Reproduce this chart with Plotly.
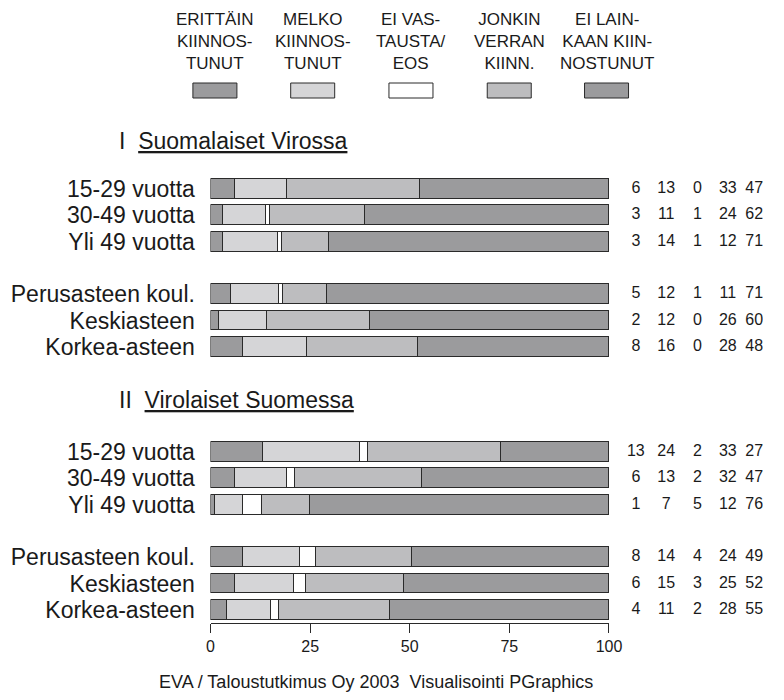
import plotly.graph_objects as go

# Data (percent of respondents)
ROW_LABELS = ["15-29 vuotta", "30-49 vuotta", "Yli 49 vuotta",
              "Perusasteen koul.", "Keskiasteen", "Korkea-asteen"] * 2
ERITTAIN    = [6, 3, 3, 5, 2, 8, 13, 6, 1, 8, 6, 4]
MELKO       = [13, 11, 14, 12, 12, 16, 24, 13, 7, 14, 15, 11]
EOS         = [0, 1, 1, 1, 0, 0, 2, 2, 5, 4, 3, 2]
JONKIN      = [33, 24, 12, 11, 26, 28, 33, 32, 12, 24, 25, 28]
EI_LAINKAAN = [47, 62, 71, 71, 60, 48, 27, 47, 76, 49, 52, 55]
SERIES_NAMES = ["ERITTÄIN<br>KIINNOS-<br>TUNUT", "MELKO<br>KIINNOS-<br>TUNUT",
                "EI VAS-<br>TAUSTA/<br>EOS", "JONKIN<br>VERRAN<br>KIINN.",
                "EI LAIN-<br>KAAN KIIN-<br>NOSTUNUT"]
SECTION_NUMS = ["I", "II"]
SECTION_TITLES = ["Suomalaiset Virossa", "Virolaiset Suomessa"]
X_TICKS = [0, 25, 50, 75, 100]
SOURCE = "EVA / Taloustutkimus Oy 2003  Visualisointi PGraphics"

# Styling / layout constants
FONT = "Liberation Sans, Arial, sans-serif"
COLORS = ["#9b9b9d", "#d5d5d7", "#ffffff", "#bdbdbf", "#9b9b9d"]
EDGE = "#2a2a2a"
TXT = "#1a1a1a"
OFF = 8                    # page body margin
W, H = 784 - 2 * OFF, 700 - 2 * OFF   # figure fits the window exactly
PLOT_BOTTOM = 623 - OFF    # x axis line (figure px)
BLOCK_START = [0, 4, 10, 14]          # row slot of each block of three bars
SECTION_Y = [-1.83, 8.04]             # slot of section headers
NUM_X = [646, 677, 709, 740, 767]     # page px centres of value columns
LEGEND_PX = [215.5, 315.5, 416, 516.5, 616]


def fx(p):
    """page px -> paper x"""
    return (p - OFF) / W


def fy(p):
    """page px -> paper y"""
    return (PLOT_BOTTOM - (p - OFF)) / PLOT_BOTTOM


row_y = [BLOCK_START[i // 3] + i % 3 for i in range(len(ROW_LABELS))]
series = [ERITTAIN, MELKO, EOS, JONKIN, EI_LAINKAAN]
totals = [sum(v) for v in zip(*series)]

fig = go.Figure()

for vals, color in zip(series, COLORS):
    fig.add_trace(go.Bar(
        x = [v / t * 100 for v, t in zip(vals, totals)], y = row_y,
        orientation = "h",
        width = 0.76,
        marker = dict(color = color, line = dict(color = EDGE, width = 1)),
        cliponaxis = False,
        showlegend = False,
        customdata = vals,
        hovertemplate = "%{customdata}<extra></extra>",
    ))

# value columns on the right (own hidden x axis in page px)
for vals, xcol in zip(series, NUM_X):
    fig.add_trace(go.Scatter(
        x = [xcol] * len(vals), y = row_y,
        xaxis = "x2",
        mode = "text",
        text = [str(v) for v in vals],
        textposition = "middle center",
        textfont = dict(family = FONT, size = 16, color = TXT),
        showlegend = False,
        hoverinfo = "skip",
    ))

annotations = []
shapes = []

# legend: text above a swatch
for name, cx, color in zip(SERIES_NAMES, LEGEND_PX, COLORS):
    annotations.append(dict(
        x = fx(cx), y = 1, xref = "paper", yref = "paper",
        text = name, showarrow = False, align = "center",
        xanchor = "center", yanchor = "top",
        font = dict(family = FONT, size = 17, color = TXT),
    ))
    shapes.append(dict(
        type = "rect", xref = "paper", yref = "paper",
        x0 = fx(cx - 22.5), x1 = fx(cx + 22.5),
        y0 = fy(98), y1 = fy(83),
        fillcolor = color, line = dict(color = EDGE, width = 1),
    ))

# section headers
for num, title, sy in zip(SECTION_NUMS, SECTION_TITLES, SECTION_Y):
    annotations.append(dict(
        x = fx(115), y = sy, xref = "paper", yref = "y",
        text = f"{num}&nbsp;&nbsp;<u>{title}</u>",
        showarrow = False, xanchor = "left", yanchor = "middle",
        font = dict(family = FONT, size = 23, color = TXT),
    ))

# source line
annotations.append(dict(
    x = fx(380), y = fy(682), xref = "paper", yref = "paper",
    text = SOURCE, showarrow = False, xanchor = "center", yanchor = "middle",
    font = dict(family = FONT, size = 18, color = TXT),
))

fig.update_layout(
    width = W, height = H,
    margin = dict(t = 0, b = H - PLOT_BOTTOM, l = 0, r = 0),
    plot_bgcolor = "white",
    paper_bgcolor = "white",
    barmode = "stack",
    bargap = 0,
    font = dict(family = FONT, size = 16, color = TXT),
    xaxis = dict(
        domain = [fx(211), fx(618.5)],
        range = [0, 100],
        tickvals = X_TICKS,
        showgrid = False, zeroline = False,
        showline = True, linecolor = EDGE, linewidth = 1,
        ticks = "outside", ticklen = 9, tickcolor = EDGE,
        tickfont = dict(size = 16),
    ),
    xaxis2 = dict(
        domain = [fx(620), 1],
        range = [620, W + OFF],
        anchor = "y",
        visible = False,
    ),
    yaxis = dict(
        range = [(PLOT_BOTTOM + OFF - 189) / 26.3, (OFF - 189) / 26.3],
        tickvals = row_y,
        ticktext = ROW_LABELS,
        showgrid = False, zeroline = False, showline = False,
        ticks = "outside", ticklen = 10, tickcolor = "rgba(0,0,0,0)",
        tickfont = dict(size = 23),
    ),
    annotations = annotations,
    shapes = shapes,
)

fig.write_html("out.html")
